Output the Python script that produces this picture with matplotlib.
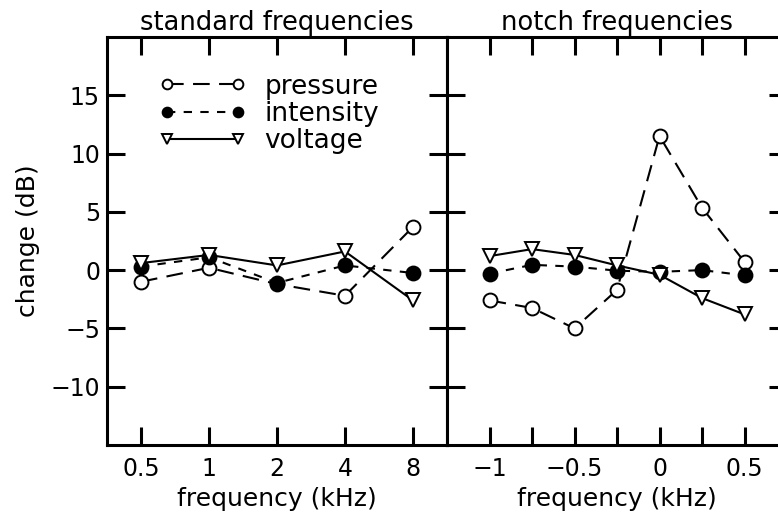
import numpy as np
import matplotlib
matplotlib.use('Agg')
import matplotlib.pyplot as plt

# standard frequencies (kHz), plotted at equal octave spacing
std_labels = ['0.5', '1', '2', '4', '8']
std_pressure = [-1.0, 0.2, -1.2, -2.2, 3.7]
std_intensity = [0.3, 1.1, -1.1, 0.4, -0.25]
std_voltage = [0.6, 1.3, 0.4, 1.6, -2.6]

# notch frequencies (kHz relative to notch)
notch_freq = [-1.0, -0.75, -0.5, -0.25, 0.0, 0.25, 0.5]
notch_pressure = [-2.6, -3.25, -5.0, -1.7, 11.5, 5.35, 0.7]
notch_intensity = [-0.3, 0.45, 0.3, -0.05, -0.15, 0.0, -0.45]
notch_voltage = [1.2, 1.8, 1.3, 0.4, -0.4, -2.4, -3.8]

plt.rcParams['font.family'] = 'DejaVu Sans'
plt.rcParams['font.size'] = 17

fig = plt.figure(figsize=(7.78, 5.12), dpi=100)
ax1 = fig.add_axes([0.1375, 0.1309, 0.437, 0.797])
ax2 = fig.add_axes([0.5746, 0.1309, 0.437, 0.797])

styles = {
    'pressure': dict(ls=(0, (8, 4.5)), marker='o', mfc='white'),
    'intensity': dict(ls=(0, (4, 4)), marker='o', mfc='black'),
    'voltage': dict(ls='-', marker='v', mfc='white'),
}


def draw(ax, x, p, i, v):
    for name, y in (('pressure', p), ('intensity', i), ('voltage', v)):
        st = styles[name]
        ax.plot(x, y, color='black', lw=1.5, ls=st['ls'], marker=st['marker'],
                ms=10, mfc=st['mfc'], mec='black', mew=1.4, label=name)
    ax.set_ylim(-15, 20)
    ax.set_yticks([-10, -5, 0, 5, 10, 15])
    ax.tick_params(direction='in', length=13, width=2.2, top=True, right=True,
                   labelsize=17)
    ax.tick_params(axis='x', pad=9)
    ax.tick_params(axis='y', pad=5)
    for s in ax.spines.values():
        s.set_linewidth(2.2)
    ax.set_xlabel('frequency (kHz)', fontsize=18, labelpad=4)


xs = np.arange(len(std_labels))
draw(ax1, xs, std_pressure, std_intensity, std_voltage)
ax1.set_xlim(-0.5, 4.5)
ax1.set_xticks(xs)
ax1.set_xticklabels(std_labels)
ax1.set_ylabel('change (dB)', fontsize=18)
ax1.yaxis.set_label_coords(-0.197, 0.5)
ax1.set_title('standard frequencies', fontsize=18.5, pad=5)
leg = ax1.legend(loc='upper left', bbox_to_anchor=(0.153, 0.91), frameon=False,
                 numpoints=2, handlelength=3.3, handletextpad=0.7,
                 labelspacing=0.05, fontsize=19, borderaxespad=0, borderpad=0,
                 markerscale=0.7)

draw(ax2, notch_freq, notch_pressure, notch_intensity, notch_voltage)
ax2.set_xlim(-1.25, 0.75)
ax2.set_xticks([-1, -0.5, 0, 0.5])
ax2.set_xticks(notch_freq, minor=True)
ax2.set_xticklabels(['\u22121', '\u22120.5', '0', '0.5'])
ax2.tick_params(which='minor', direction='in', length=13, width=2.2, top=True)
ax2.set_yticklabels([])
ax2.set_title('notch frequencies', fontsize=18.5, pad=5)

fig.savefig('out.png', dpi=100)
